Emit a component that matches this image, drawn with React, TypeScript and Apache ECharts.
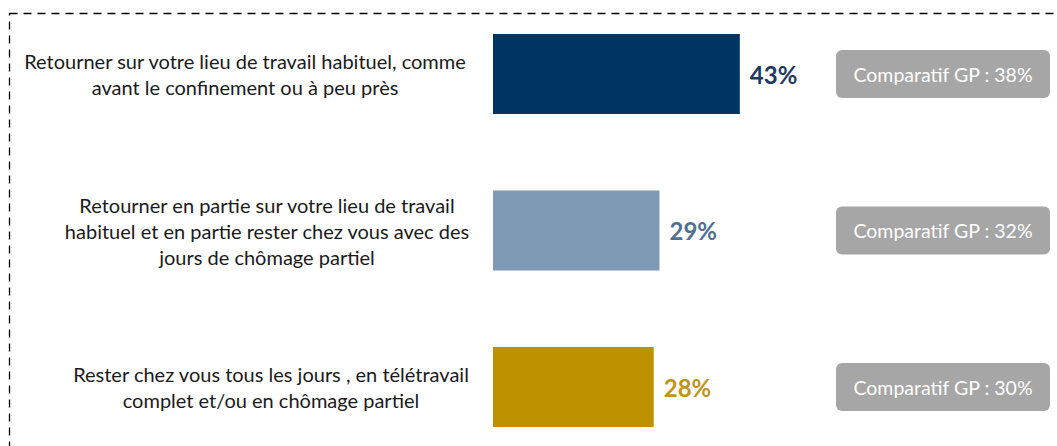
import React, { useEffect, useRef } from "react";
import * as echarts from "echarts";

const categories = [
  "Retourner sur votre lieu de travail habituel, comme\navant le confinement ou à peu près",
  "Retourner en partie sur votre lieu de travail\nhabituel et en partie rester chez vous avec des\njours de chômage partiel",
  "Rester chez vous tous les jours , en télétravail\ncomplet et/ou en chômage partiel",
];
const values = [43, 29, 28];
const comparatifs = [38, 32, 30];
const barColors = ["#003462", "#7f9ab4", "#bf9000"];
const labelColors = ["#1f3864", "#4f7093", "#c09418"];

const FONT = "Lato";
const BADGE_X = 78.4;
const labelShift = [17, -5, -9];

export default function App() {
  const ref = useRef<HTMLDivElement>(null);
  useEffect(() => {
    document.body.style.margin = "0";
    const chart = echarts.init(ref.current!, null, { renderer: "svg" });
    const baseLabel = {
      align: "center",
      fontFamily: FONT,
      fontSize: 20,
      lineHeight: 26,
      color: "#1a1a1a",
    };
    chart.setOption({
      animation: false,
      grid: { left: 493, right: 18.7, top: 74, bottom: 59, containLabel: false, outerBoundsMode: "none" },
      xAxis: {
        type: "value",
        min: 0,
        max: 95,
        show: false,
      },
      yAxis: {
        type: "category",
        inverse: true,
        boundaryGap: false,
        data: categories.map((c, i) => ({
          value: c,
          textStyle: {
            ...baseLabel,
            padding: labelShift[i] > 0 ? [0, labelShift[i] * 2, 0, 0] : [0, 0, 0, -labelShift[i] * 2],
          },
        })),
        axisLine: { show: false },
        axisTick: { show: false },
        splitLine: { show: false },
        axisLabel: {
          ...baseLabel,
          margin: 231,
        },
      },
      series: [
        {
          type: "bar",
          data: values.map((v, i) => ({
            value: v,
            itemStyle: { color: barColors[i] },
            label: { color: labelColors[i] },
          })),
          barWidth: 80,
          clip: false,
          label: {
            show: true,
            position: "right",
            distance: 10,
            formatter: "{c}%",
            fontFamily: FONT,
            fontWeight: "bold",
            fontSize: 24,
          },
        },
        {
          type: "scatter",
          symbolSize: 1,
          itemStyle: { color: "rgba(0,0,0,0)", opacity: 1 },
          clip: false,
          data: comparatifs.map((v, i) => [BADGE_X, i]),
          label: {
            show: true,
            position: "inside",
            formatter: (p: any) => `Comparatif GP : ${comparatifs[p.dataIndex]}%`,
            fontFamily: FONT,
            fontSize: 19.5,
            color: "#ffffff",
            backgroundColor: "#a6a6a6",
            borderRadius: 6,
            width: 214,
            height: 48,
            lineHeight: 48,
            align: "center",
          },
        },
      ],
      graphic: [
        {
          type: "rect",
          shape: { x: 9.5, y: 13.5, width: 1200, height: 600 },
          style: { fill: "none", stroke: "#000", lineWidth: 1.3, lineDash: [8, 6] },
          silent: true,
        },
      ],
    });
    return () => chart.dispose();
  }, []);
  return <div ref={ref} style={{ width: 1057, height: 446 }} />;
}
